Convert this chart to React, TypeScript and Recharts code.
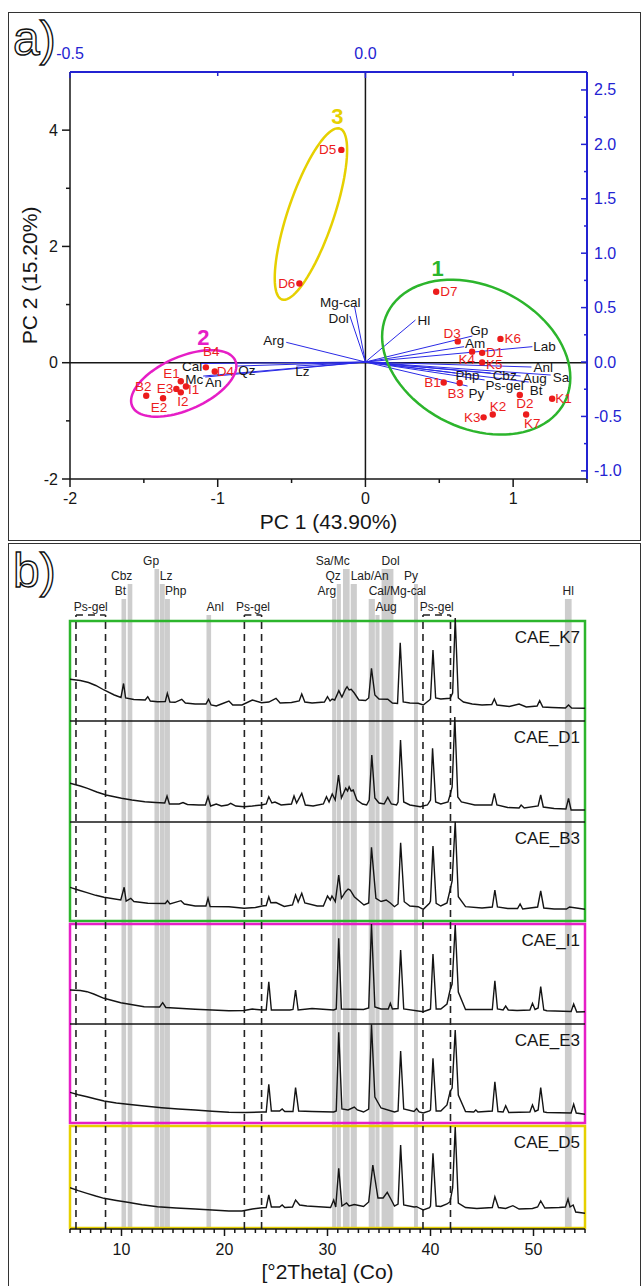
import React from "react"
import { ComposedChart, Scatter, Line, XAxis, YAxis, ReferenceLine, ReferenceArea } from "recharts"

const FONT = '"Liberation Sans", Arial, Helvetica, sans-serif'
const INK = "#161616"
const BLUE = "#2323d2"
const RED = "#ec1c1c"
const GREY_BAR = "#cdcdcd"

// ---------- a) PCA biplot ----------
const pc1Ticks = [-2, -1.5, -1, -0.5, 0, 0.5, 1, 1.5]
const pc2Ticks = [-2, -1, 0, 1, 2, 3, 4]
const loadXTicks = [-0.5, -0.25, 0, 0.25]
const loadYTicks = [-1, -0.75, -0.5, -0.25, 0, 0.25, 0.5, 0.75, 1, 1.25, 1.5, 1.75, 2, 2.25, 2.5]

const sampleNames = ["D5", "D6", "D7", "D3", "K6", "K4", "D1", "K5", "B1", "B3", "D2", "K1", "K2", "K3", "K7", "B4", "D4", "E1", "E3", "I1", "I2", "B2", "E2"]
const pc1 = [-0.163, -0.447, 0.479, 0.625, 0.914, 0.722, 0.79, 0.79, 0.53, 0.638, 1.045, 1.264, 0.862, 0.8, 1.088, -1.08, -1.02, -1.25, -1.28, -1.215, -1.25, -1.484, -1.37]
const pc2 = [3.66, 1.363, 1.22, 0.367, 0.41, 0.19, 0.17, 0.005, -0.34, -0.35, -0.555, -0.62, -0.89, -0.94, -0.89, -0.08, -0.15, -0.32, -0.45, -0.41, -0.51, -0.567, -0.61]

const loadingNames = ["Arg", "Mg-cal", "Dol", "Hl", "Gp", "Am", "Lab", "Anl", "Sa", "Aug", "Cbz", "Bt", "Ps-gel", "Php", "Py", "Qz", "Lz", "Cal", "Mc", "An"]
const loadX = [-0.134, -0.0186, -0.0263, 0.0847, 0.181, 0.167, 0.2825, 0.281, 0.3136, 0.2627, 0.2119, 0.2763, 0.2017, 0.1525, 0.1729, -0.2169, -0.117, -0.2797, -0.2746, -0.271]
const loadY = [0.181, 0.515, 0.423, 0.386, 0.239, 0.141, 0.141, -0.046, -0.1195, -0.129, -0.101, -0.184, -0.165, -0.101, -0.221, -0.037, -0.037, -0.014, -0.129, -0.138]

const groupNames = ["1", "2", "3"]
const groupColors = ["#2cb52c", "#e61ec6", "#e6d000"]
const groupLabelX = [0.488, -1.097, -0.19]
const groupLabelY = [1.62, 0.43, 4.24]
// confidence ellipses: centre, major and minor semi-axis vectors (PC units)
const ellipseCentre = [[0.75, 0.095], [-1.23, -0.356], [-0.369, 2.557]]
const ellipseMajor = [[0.599, -0.77], [0.349, 0.392], [0.196, 1.47]]
const ellipseMinor = [[-0.217, -1.087], [0.0725, -0.417], [0.147, -0.126]]

// label placement around each point: [dx, dy, anchor]
const sampleLabelPos: Record<string, [number, number, string]> = {
  D5: [-5, 0, "end"], D6: [-4, 0, "end"], D7: [4, 0, "start"], D3: [3, -8, "end"],
  K6: [4, 0, "start"], K4: [3, 8, "end"], D1: [4, 0, "start"], K5: [4, 2, "start"],
  B1: [-3, 0, "end"], B3: [-4, 10, "middle"], D2: [5, 9, "middle"], K1: [3, 0, "start"],
  K2: [-3, -8, "start"], K3: [-3, 0, "end"], K7: [6, 9, "middle"], B4: [-3, -16, "start"],
  D4: [2, 0, "start"], E1: [-1, -8, "end"], E3: [-3, 0, "end"], I1: [2, 3, "start"],
  I2: [2, 9, "middle"], B2: [-3, -9, "middle"], E2: [-4, 9, "middle"],
}
const loadingLabelPos: Record<string, [number, number, string]> = {
  Arg: [-2, -2, "end"], "Mg-cal": [6, -3, "end"], Dol: [-1, 3, "end"], Hl: [2, 0, "start"],
  Gp: [-2, -6, "start"], Am: [1, -3, "start"], Lab: [1, 0, "start"], Anl: [2, 0, "start"],
  Sa: [2, 2, "start"], Aug: [2, 2, "start"], Cbz: [2, 2, "start"], Bt: [1, 8, "start"],
  "Ps-gel": [1, 6, "start"], Php: [0, 2, "start"], Py: [1, 7, "start"], Qz: [1, 4, "start"],
  Lz: [-1, 5, "start"], Cal: [2, 3, "end"], Mc: [0, 3, "end"], An: [0, 5, "start"],
}

// ---------- b) XRD patterns ----------
const sampleIds = ["CAE_K7", "CAE_D1", "CAE_B3", "CAE_I1", "CAE_E3", "CAE_D5"]
const thetaTicks = Array.from({ length: 51 }, (_, i) => 5 + i)

const mineralNames = ["Bt", "Cbz", "Gp", "Lz", "Php", "Anl", "Arg", "Qz", "Sa/Mc", "Lab/An", "Cal/Mg-cal", "Aug", "Dol", "Py", "Hl"]
const mineralFrom = [10.0, 10.6, 13.2, 13.72, 14.22, 18.25, 30.45, 30.9, 31.5, 32.25, 34.0, 34.65, 35.25, 38.4, 53.05]
const mineralTo = [10.45, 11.05, 13.65, 14.2, 14.7, 18.7, 30.85, 31.3, 32.15, 32.85, 34.6, 35.05, 36.4, 38.78, 53.7]
const psGelFrom = [5.58, 21.93, 39.27]
const psGelTo = [8.45, 23.6, 41.94]

// intensity: [°2Theta, height above the panel floor]
const xrdK7: [number, number][] = [
  [5.0, 41.7], [6.0, 40.5], [6.8, 38.5], [7.5, 35.5], [8.3, 31], [9.3, 26], [9.95, 23.5], [10.2, 37.5], [10.4, 23],
  [11.2, 21.5], [12.3, 21], [12.55, 24.3], [12.8, 20], [13.5, 19.3], [14.25, 19.5], [14.45, 27.7], [14.7, 19],
  [15.2, 18.7], [15.85, 21.7], [16.2, 18], [17.15, 17], [18.2, 17], [18.45, 21.7], [18.7, 16], [19.2, 15], [19.7, 17],
  [20.43, 20], [20.8, 16], [21.7, 16], [22.7, 21], [23.6, 18.3], [24.3, 19], [25.0, 22.7], [25.4, 18], [26.5, 18.5],
  [27.25, 20], [27.5, 27], [27.8, 19], [28.5, 18], [29.7, 19], [30.0, 24.3], [30.25, 20], [30.45, 22], [30.7, 21],
  [31.1, 30.3], [31.4, 24], [31.75, 32], [31.9, 34.3], [32.1, 31], [32.3, 31.7], [32.6, 28], [33.05, 21], [33.7, 20.5],
  [34.0, 23], [34.27, 52.7], [34.6, 26], [35.0, 22], [35.85, 21.7], [36.3, 18], [36.8, 17.5], [37.06, 78.3], [37.35, 19],
  [38.0, 18], [38.8, 17.7], [39.3, 16], [39.9, 21], [40.0, 22], [40.24, 71], [40.5, 23], [41.0, 22], [41.9, 22.7],
  [42.15, 28], [42.4, 103], [42.7, 23], [43.2, 19], [44.05, 17], [45.0, 16], [45.95, 16.5], [46.2, 22], [46.45, 16],
  [47.65, 14.5], [48.6, 17], [49.3, 14], [50.35, 15], [50.6, 20.3], [50.9, 14], [51.8, 13.5], [53.1, 13], [53.4, 16],
  [53.7, 13], [55.0, 12.7],
]
const xrdD1: [number, number][] = [
  [5.0, 38.7], [6.0, 36], [6.7, 33.7], [7.6, 30], [8.5, 27], [10.0, 23.7], [11.0, 22], [12.26, 20.3], [13.3, 19.5],
  [14.2, 19], [14.42, 26], [14.65, 18], [15.6, 18], [15.97, 19.5], [16.4, 17.5], [17.5, 17], [18.15, 17], [18.4, 25.3],
  [18.65, 16], [19.2, 18], [19.7, 16], [20.3, 17], [20.6, 18.7], [21.1, 16], [21.9, 15.3], [22.7, 16], [23.6, 17],
  [24.05, 18], [24.3, 25.3], [24.6, 19], [24.9, 20], [25.5, 17], [26.5, 18], [26.75, 26], [27.0, 19], [27.5, 28.7],
  [27.85, 17], [28.6, 16], [29.6, 18], [29.9, 25.3], [30.15, 20], [30.46, 28], [30.75, 22], [31.07, 47], [31.35, 24],
  [31.77, 33.7], [31.95, 31], [32.1, 35.3], [32.3, 31], [32.5, 32], [32.85, 22], [33.4, 18], [33.8, 17], [34.05, 22],
  [34.3, 67], [34.6, 24], [35.0, 19], [35.5, 18], [35.85, 24.7], [36.2, 18], [36.7, 17], [36.85, 20], [37.09, 82],
  [37.4, 20], [38.0, 17], [39.0, 15.3], [39.7, 17], [40.0, 22], [40.2, 73.7], [40.5, 20], [41.0, 18], [41.7, 20],
  [41.9, 27], [42.1, 35], [42.36, 105], [42.65, 25], [43.0, 20], [44.3, 17], [45.95, 17], [46.2, 28.7], [46.45, 17],
  [47.5, 14.5], [48.6, 14], [48.8, 17], [49.1, 14], [50.45, 16], [50.7, 27], [50.95, 15], [52.0, 13.5], [53.15, 13],
  [53.4, 23.7], [53.65, 12], [54.2, 12], [55.0, 12],
]
const xrdB3: [number, number][] = [
  [5.0, 33.7], [5.8, 31], [6.65, 28.3], [7.5, 25.7], [8.3, 23.7], [9.93, 21], [10.26, 33.7], [10.45, 20], [10.9, 22.7],
  [11.2, 19.5], [12.56, 17.7], [14.25, 17.5], [14.46, 20.3], [14.7, 17], [15.77, 20.3], [16.1, 17], [17.15, 15],
  [18.2, 15], [18.4, 22.7], [18.6, 14.5], [20.43, 14.3], [21.9, 12.7], [23.0, 13.5], [23.65, 15], [24.05, 15.5],
  [24.3, 24.3], [24.5, 18.3], [25.0, 18.5], [25.8, 14.5], [26.6, 16], [26.9, 26], [27.15, 19], [27.5, 27.7], [27.8, 18],
  [29.0, 15], [29.6, 15], [30.0, 25], [30.27, 21], [30.43, 25], [30.76, 19.3], [31.09, 46], [31.35, 22.7], [31.75, 29.3],
  [32.0, 32], [32.2, 31], [32.6, 24.3], [33.54, 16], [34.0, 18], [34.27, 73.7], [34.7, 22.7], [35.2, 19.5], [35.7, 21],
  [36.1, 18], [36.5, 14.3], [36.85, 17], [37.1, 78.3], [37.45, 19.3], [38.0, 15], [38.8, 14.3], [39.3, 11.7],
  [39.9, 17.7], [40.0, 20], [40.24, 75], [40.55, 17.7], [41.0, 15], [41.6, 18], [41.9, 31], [42.1, 40], [42.4, 99.3],
  [42.7, 24.3], [43.4, 14.3], [45.0, 13], [46.0, 14], [46.25, 31], [46.5, 14], [47.5, 12.5], [48.45, 12.5], [48.7, 17],
  [48.95, 12], [49.3, 12.5], [50.4, 14], [50.7, 30], [51.0, 13], [52.0, 12], [53.2, 12], [53.5, 14], [55.0, 11.7],
]
const xrdI1: [number, number][] = [
  [5.0, 34], [6.0, 33.5], [6.65, 32.3], [7.3, 30], [8.3, 25.7], [9.93, 21.3], [12.2, 17.3], [13.7, 17], [14.0, 21.3],
  [14.3, 16.5], [17.15, 14.7], [20.43, 13.3], [21.9, 13.5], [22.7, 15], [23.65, 14], [24.05, 14], [24.3, 42.3],
  [24.55, 14], [25.5, 14], [26.35, 14], [26.65, 14.5], [26.9, 34], [27.15, 14], [28.5, 15.5], [30.6, 14], [30.85, 15],
  [31.09, 85.7], [31.35, 15], [33.5, 14.5], [34.0, 16], [34.27, 100], [34.6, 17], [35.2, 15], [35.9, 15], [36.1, 20.7],
  [36.3, 15], [36.85, 15.5], [37.1, 74], [37.4, 15], [39.3, 12.3], [39.9, 14.5], [40.0, 15], [40.24, 70], [40.55, 15],
  [41.0, 15], [41.6, 20], [41.9, 34], [42.1, 40], [42.4, 99], [42.7, 32], [43.4, 14.5], [46.0, 14.5], [46.25, 43.3],
  [46.5, 15], [47.05, 14], [47.3, 18], [47.55, 14], [48.4, 13.5], [49.65, 14], [49.9, 20.7], [50.15, 14.5],
  [50.45, 16], [50.7, 37.3], [51.0, 14], [51.3, 13.3], [53.65, 12.5], [53.9, 20], [54.2, 12], [55.0, 12.3],
]
const xrdE3: [number, number][] = [
  [5.0, 30.7], [5.8, 28.3], [6.65, 26.3], [7.5, 24], [8.3, 22], [9.5, 20], [10.6, 18.7], [12.2, 17], [13.9, 15.3],
  [15.5, 14], [17.15, 13], [18.8, 11.8], [20.43, 10.7], [22.0, 10.5], [23.65, 11], [24.05, 11], [24.3, 38.7],
  [24.55, 12], [25.35, 12], [25.6, 14], [25.85, 11.5], [26.65, 11.5], [26.9, 35.3], [27.2, 12], [28.5, 11.5],
  [30.6, 11], [30.85, 12], [31.09, 90.7], [31.4, 14], [32.0, 13], [32.6, 16], [32.9, 13], [33.5, 11], [34.0, 14],
  [34.27, 98.7], [34.6, 26], [35.2, 15], [36.5, 11], [36.85, 12], [37.1, 72], [37.4, 14], [38.4, 11.5], [38.65, 14.5],
  [38.9, 11], [39.3, 10], [39.9, 12], [40.0, 13], [40.24, 64.7], [40.55, 12], [41.0, 12], [41.6, 18], [41.9, 31.3],
  [42.1, 35], [42.4, 93], [42.7, 28], [43.4, 11.5], [44.2, 11], [44.4, 13], [44.6, 11], [46.0, 12], [46.25, 41.3],
  [46.55, 11.5], [47.05, 11], [47.3, 17.3], [47.6, 10.5], [49.65, 11], [49.9, 18], [50.15, 11.5], [50.45, 13],
  [50.7, 35.3], [51.0, 11], [51.3, 10.5], [53.65, 10], [53.9, 18.7], [54.15, 10], [55.0, 8.7],
]
const xrdD5: [number, number][] = [
  [5.0, 40.3], [5.8, 37.3], [6.65, 34.7], [7.5, 32], [8.3, 29.7], [9.5, 27.5], [10.6, 25.7], [12.0, 23.3], [13.5, 21.3],
  [15.3, 20], [17.15, 19], [18.8, 18], [20.43, 17], [21.7, 17], [22.7, 19], [23.65, 20.3], [24.05, 20.5], [24.3, 33],
  [24.55, 21], [25.35, 21], [25.6, 23], [25.85, 20.5], [26.6, 21], [26.9, 28], [27.3, 23], [28.0, 22], [30.3, 20.5],
  [30.6, 28], [30.8, 21], [31.09, 59.7], [31.4, 22], [31.85, 25], [32.1, 22], [32.6, 23.5], [33.5, 21.5], [34.0, 26],
  [34.4, 63], [34.9, 30], [35.4, 30], [35.8, 35.7], [36.2, 28], [36.5, 22], [36.85, 24], [37.1, 83], [37.4, 23],
  [38.4, 21], [38.65, 21.3], [38.9, 20], [39.3, 18], [39.9, 20.3], [40.0, 22], [40.24, 74.7], [40.55, 22], [41.0, 21.5],
  [41.6, 24], [41.9, 26.3], [42.15, 40], [42.4, 101], [42.7, 25], [43.4, 20.5], [44.5, 19.5], [46.0, 20.5],
  [46.25, 31.3], [46.6, 20.5], [47.3, 19.5], [48.0, 22.3], [48.6, 19], [49.9, 19.5], [50.4, 21], [50.7, 27], [51.1, 20],
  [52.5, 20.5], [53.1, 21], [53.35, 29], [53.55, 21], [53.85, 23], [54.1, 16], [55.0, 14.7],
]
const xrdTraces = [xrdK7, xrdD1, xrdB3, xrdI1, xrdE3, xrdD5]

// ---------- layout (panel b is stacked in pixel-like units) ----------
const panelFloor = [508, 407, 308, 205, 106, 1]
const panelTop = [608, 508, 407, 305, 205, 103]
const groupBoxes = [
  { y1: 308, y2: 608, color: groupColors[0] },
  { y1: 106, y2: 305, color: groupColors[1] },
  { y1: 1, y2: 103, color: groupColors[2] },
]
const separators = [508, 407, 205]
const tierTop = [660, 645, 630, 614]
const mineralTier = [3, 2, 1, 2, 3, 4, 3, 2, 1, 2, 3, 4, 1, 2, 3]
const mineralAnchor = ["end", "end", "end", "start", "start", "start", "end", "end", "end", "start", "start", "start", "start", "end", "middle"]
const PS_TOP = 614

const ellipsePoints = (c: number[], u: number[], v: number[]) => {
  const pts: { x: number; y: number }[] = []
  for (let k = 0; k <= 90; k++) {
    const t = (k / 90) * 2 * Math.PI
    pts.push({ x: c[0] + u[0] * Math.cos(t) + v[0] * Math.sin(t), y: c[1] + u[1] * Math.cos(t) + v[1] * Math.sin(t) })
  }
  return pts
}

const EmptyShape = () => <g />

const TextMark = (p: any) => {
  const d = p.payload
  return (
    <text
      x={p.cx + (d.dx || 0)}
      y={p.cy + (d.dy || 0)}
      textAnchor={d.anchor}
      dominantBaseline="central"
      fontSize={d.size}
      fontWeight={d.bold ? 700 : 400}
      fill={d.color}
      fontFamily={FONT}
    >
      {d.text}
    </text>
  )
}

const ScoreMark = (p: any) => {
  const d = p.payload
  return (
    <g>
      <circle cx={p.cx} cy={p.cy} r={3.2} fill={RED} />
      <text x={p.cx + d.dx} y={p.cy + d.dy} textAnchor={d.anchor} dominantBaseline="central" fontSize={13.5} fill={RED} fontFamily={FONT}>
        {d.text}
      </text>
    </g>
  )
}

const isMult = (v: number, m: number) => Math.abs(v / m - Math.round(v / m)) < 1e-6

const LeftTick = (p: any) => {
  const v = p.payload.value
  const major = isMult(v, 2)
  return (
    <g>
      <line x1={p.x} y1={p.y} x2={p.x - (major ? 8 : 4)} y2={p.y} stroke={INK} strokeWidth={1.5} />
      {major && (
        <text x={p.x - 12} y={p.y} textAnchor="end" dominantBaseline="central" fontSize={16} fill={INK} fontFamily={FONT}>
          {v}
        </text>
      )}
    </g>
  )
}
const BottomTick = (p: any) => {
  const v = p.payload.value
  const major = isMult(v, 1)
  return (
    <g>
      <line x1={p.x} y1={p.y} x2={p.x} y2={p.y + (major ? 8 : 4)} stroke={INK} strokeWidth={1.5} />
      {major && (
        <text x={p.x} y={p.y + 19} textAnchor="middle" dominantBaseline="central" fontSize={16} fill={INK} fontFamily={FONT}>
          {v}
        </text>
      )}
    </g>
  )
}
const TopTick = (p: any) => {
  const v = p.payload.value
  const major = isMult(v, 0.5)
  return (
    <g>
      <line x1={p.x} y1={p.y} x2={p.x} y2={p.y + (major ? 6 : 4)} stroke={BLUE} strokeWidth={1.5} />
      {major && (
        <text x={p.x} y={p.y - 19} textAnchor="middle" dominantBaseline="central" fontSize={16} fill={BLUE} fontFamily={FONT}>
          {v.toFixed(1)}
        </text>
      )}
    </g>
  )
}
const RightTick = (p: any) => {
  const v = p.payload.value
  const major = isMult(v, 0.5)
  return (
    <g>
      <line x1={p.x} y1={p.y} x2={p.x - (major ? 6 : 3)} y2={p.y} stroke={BLUE} strokeWidth={1.5} />
      {major && (
        <text x={p.x + 7} y={p.y} textAnchor="start" dominantBaseline="central" fontSize={16} fill={BLUE} fontFamily={FONT}>
          {v.toFixed(1)}
        </text>
      )}
    </g>
  )
}
const ThetaTick = (p: any) => {
  const v = p.payload.value
  const major = isMult(v, 10)
  return (
    <g>
      <line x1={p.x} y1={p.y} x2={p.x} y2={p.y + (major ? 7 : 4)} stroke={INK} strokeWidth={1.5} />
      {major && (
        <text x={p.x} y={p.y + 20} textAnchor="middle" dominantBaseline="central" fontSize={16} fill={INK} fontFamily={FONT}>
          {v}
        </text>
      )}
    </g>
  )
}

function Biplot() {
  const scores = sampleNames.map((n, i) => {
    const [dx, dy, anchor] = sampleLabelPos[n]
    return { x: pc1[i], y: pc2[i], text: n, dx, dy, anchor }
  })
  const loadingLabels = loadingNames.map((n, i) => {
    const [dx, dy, anchor] = loadingLabelPos[n]
    return { x: loadX[i], y: loadY[i], text: n, dx, dy, anchor, size: 13.5, color: INK }
  })
  const groupLabels = groupNames.map((g, i) => ({
    x: groupLabelX[i], y: groupLabelY[i], text: g, anchor: "middle", size: 22, bold: true, color: groupColors[i],
  }))

  return (
    <ComposedChart width={633} height={528} margin={{ top: 30, right: 0, bottom: 0, left: 0 }}>
      <XAxis
        xAxisId="pc" type="number" dataKey="x" domain={[-2, 1.5]} allowDataOverflow ticks={pc1Ticks} interval={0}
        tickSize={0} tickMargin={0} tickLine={false} tick={BottomTick} height={61}
        axisLine={{ stroke: INK, strokeWidth: 1.5 }}
        label={{ value: "PC 1 (43.90%)", position: "center", dy: 12, fontSize: 21, fill: INK, fontFamily: FONT }}
      />
      <YAxis
        yAxisId="pc" type="number" dataKey="y" domain={[-2, 5]} allowDataOverflow ticks={pc2Ticks} interval={0}
        tickSize={0} tickMargin={0} tickLine={false} tick={LeftTick} width={62}
        axisLine={{ stroke: INK, strokeWidth: 1.5 }}
        label={{ value: "PC 2 (15.20%)", position: "center", angle: -90, dx: -9, fontSize: 21, fill: INK, fontFamily: FONT }}
      />
      <XAxis
        xAxisId="load" orientation="top" type="number" dataKey="x" domain={[-0.5, 0.375]} allowDataOverflow
        ticks={loadXTicks} interval={0} tickSize={0} tickMargin={0} tickLine={false} tick={TopTick} height={30}
        axisLine={{ stroke: BLUE, strokeWidth: 2 }}
      />
      <YAxis
        yAxisId="load" orientation="right" type="number" dataKey="y" domain={[-1.075, 2.665]} allowDataOverflow
        ticks={loadYTicks} interval={0} tickSize={0} tickMargin={0} tickLine={false} tick={RightTick} width={54}
        axisLine={{ stroke: BLUE, strokeWidth: 2 }}
      />
      <ReferenceLine xAxisId="pc" yAxisId="pc" x={0} stroke={INK} strokeWidth={1.5} />
      <ReferenceLine xAxisId="pc" yAxisId="pc" y={0} stroke={INK} strokeWidth={1.5} />
      {loadingNames.map((n, i) => (
        <ReferenceLine
          key={n}
          xAxisId="load"
          yAxisId="load"
          segment={[{ x: 0, y: 0 }, { x: loadX[i], y: loadY[i] }]}
          stroke="#2a2ae6"
          strokeWidth={1}
          ifOverflow="visible"
        />
      ))}
      {groupNames.map((g, i) => (
        <Scatter
          key={g}
          xAxisId="pc"
          yAxisId="pc"
          data={ellipsePoints(ellipseCentre[i], ellipseMajor[i], ellipseMinor[i])}
          line={{ stroke: groupColors[i], strokeWidth: 2.5 }}
          lineType="joint"
          shape={EmptyShape}
          isAnimationActive={false}
        />
      ))}
      <Scatter xAxisId="load" yAxisId="load" data={loadingLabels} shape={TextMark} isAnimationActive={false} />
      <Scatter xAxisId="pc" yAxisId="pc" data={groupLabels} shape={TextMark} isAnimationActive={false} />
      <Scatter xAxisId="pc" yAxisId="pc" data={scores} shape={ScoreMark} isAnimationActive={false} />
    </ComposedChart>
  )
}

function XrdPanel() {
  const mineralLabels = mineralNames.map((n, i) => {
    const anchor = mineralAnchor[i]
    const x = anchor === "end" ? mineralTo[i] : anchor === "start" ? mineralFrom[i] : (mineralFrom[i] + mineralTo[i]) / 2
    return { x, y: tierTop[mineralTier[i] - 1], text: n, anchor, dy: -8, size: 12, color: "#222" }
  })
  const psLabels = psGelFrom.map((f, i) => ({
    x: (f + psGelTo[i]) / 2, y: PS_TOP, text: "Ps-gel", anchor: "middle", dy: -8, size: 12, color: "#222",
  }))
  const sampleLabels = sampleIds.map((s, i) => ({
    x: 55, y: panelTop[i], text: s, anchor: "end", dx: -5, dy: 16, size: 17, color: INK,
  }))

  return (
    <ComposedChart width={633} height={742} margin={{ top: 1, right: 56, bottom: 7, left: 62 }}>
      <XAxis
        type="number" dataKey="x" domain={[5, 55]} allowDataOverflow ticks={thetaTicks} interval={0}
        tickSize={0} tickMargin={0} tickLine={false} tick={ThetaTick} height={50}
        axisLine={{ stroke: INK, strokeWidth: 1.5 }}
        label={{ value: "[°2Theta] (Co)", position: "center", dy: 18, fontSize: 21, fill: INK, fontFamily: FONT }}
      />
      <YAxis hide type="number" dataKey="y" domain={[0, 684]} allowDataOverflow />
      {mineralNames.map((n, i) => (
        <ReferenceArea
          key={n}
          x1={mineralFrom[i]}
          x2={mineralTo[i]}
          y1={0}
          y2={tierTop[mineralTier[i] - 1]}
          fill={GREY_BAR}
          fillOpacity={1}
          stroke="none"
          ifOverflow="visible"
        />
      ))}
      {groupBoxes.map((b, i) => (
        <ReferenceArea key={"box" + i} x1={5} x2={55} y1={b.y1} y2={b.y2} fill="none" stroke={b.color} strokeWidth={2.5} ifOverflow="visible" />
      ))}
      {separators.map((s) => (
        <ReferenceLine key={"sep" + s} y={s} stroke={INK} strokeWidth={1.5} />
      ))}
      {psGelFrom.map((f, i) => [
        <ReferenceLine key={"psl" + i} segment={[{ x: f, y: 0 }, { x: f, y: PS_TOP }]} stroke="#222" strokeWidth={1.6} strokeDasharray="7 5" ifOverflow="visible" />,
        <ReferenceLine key={"psr" + i} segment={[{ x: psGelTo[i], y: 0 }, { x: psGelTo[i], y: PS_TOP }]} stroke="#222" strokeWidth={1.6} strokeDasharray="7 5" ifOverflow="visible" />,
        <ReferenceLine key={"pst" + i} segment={[{ x: f, y: PS_TOP }, { x: psGelTo[i], y: PS_TOP }]} stroke="#222" strokeWidth={1.6} strokeDasharray="7 5" ifOverflow="visible" />,
      ])}
      {xrdTraces.map((tr, i) => (
        <Line
          key={sampleIds[i]}
          data={tr.map(([t, h]) => ({ x: t, y: panelFloor[i] + h }))}
          dataKey="y"
          type="linear"
          dot={false}
          activeDot={false}
          stroke="#141414"
          strokeWidth={1.4}
          isAnimationActive={false}
        />
      ))}
      <Scatter data={mineralLabels} shape={TextMark} isAnimationActive={false} />
      <Scatter data={psLabels} shape={TextMark} isAnimationActive={false} />
      <Scatter data={sampleLabels} shape={TextMark} isAnimationActive={false} />
    </ComposedChart>
  )
}

export default function App() {
  return (
    <div style={{ position: "relative", width: 644, height: 1286, overflow: "hidden", background: "#fff", fontFamily: FONT }}>
      <style>{"body{margin:0}"}</style>
      <div style={{ position: "absolute", left: 8, top: 12, width: 633, height: 529, border: "1.5px solid #333", boxSizing: "border-box" }} />
      <div style={{ position: "absolute", left: 8, top: 543, width: 633, height: 760, border: "1.5px solid #333", boxSizing: "border-box" }} />
      <div style={{ position: "absolute", left: 8, top: 12 }}>
        <Biplot />
      </div>
      <div style={{ position: "absolute", left: 8, top: 544 }}>
        <XrdPanel />
      </div>
      <svg width={644} height={1286} style={{ position: "absolute", left: 0, top: 0, pointerEvents: "none" }}>
        <text x={13} y={55} fontSize={48} fontFamily={FONT} fill="#fff" stroke="#111" strokeWidth={1.4}>a)</text>
        <text x={13} y={587} fontSize={48} fontFamily={FONT} fill="#fff" stroke="#111" strokeWidth={1.4}>b)</text>
      </svg>
    </div>
  )
}
